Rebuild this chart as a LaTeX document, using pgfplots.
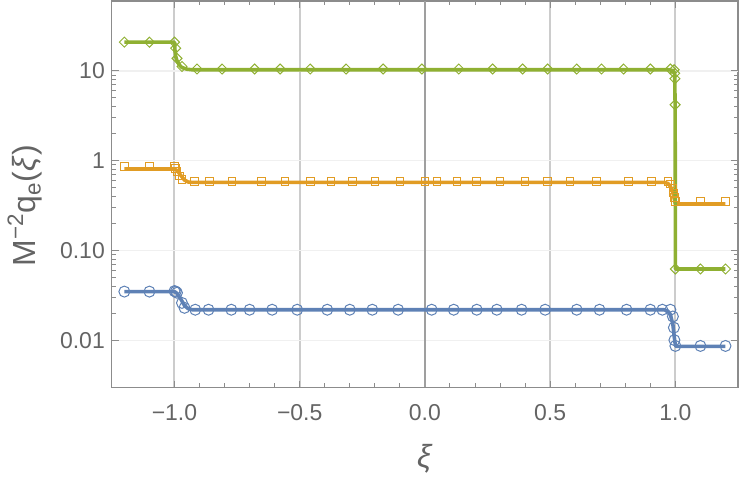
\documentclass[border=0pt]{standalone}
\usepackage{fontspec}
\setmainfont{Liberation Sans}
\usepackage{pgfplots}
\pgfplotsset{compat=1.18}
\definecolor{mblue}{RGB}{94,129,181}
\definecolor{morange}{RGB}{225,156,36}
\definecolor{mgreen}{RGB}{143,176,50}
\definecolor{framegray}{RGB}{140,140,140}
\definecolor{labgray}{RGB}{100,100,100}
\begin{document}
\begin{tikzpicture}
\useasboundingbox (-56pt,-47pt) rectangle (319.5pt,194pt);
\begin{axis}[
  at={(0,0)}, anchor=south west,
  scale only axis, width=313.5pt, height=193.5pt,
  xmin=-1.25, xmax=1.25,
  ymode=log, ymin=0.003, ymax=60,
  xtick={-1,-0.5,0,0.5,1},
  xticklabels={−1.0,−0.5,0.0,0.5,1.0},
  minor x tick num=4,
  ytick={0.01,0.1,1,10},
  yticklabels={0.01,0.10,1,10},
  xmajorgrids,
  major grid style={draw=gray!40, line width=1pt},
  extra y ticks={0.01,0.1,1,10},
  extra y tick labels={},
  extra y tick style={grid=major, major grid style={draw=gray!12, line width=0.6pt}},
  axis line style={framegray, line width=0.6pt},
  every tick/.style={framegray, line width=0.5pt},
  major tick length=3.5pt, minor tick length=2pt,
  tick align=inside,
  tick label style={font=\fontsize{11.5}{13}\selectfont, text=labgray},
  xticklabel style={yshift=-5pt},
  xlabel={\textit{ξ}},
  ylabel={M\textsuperscript{−2}q\textsubscript{e}(\textit{ξ})},
  label style={font=\fontsize{16}{18}\selectfont, text=labgray},
  xlabel style={at={(axis description cs:0.5,-0.185)}, anchor=center},
  ylabel style={at={(axis description cs:-0.139,0.47)}, anchor=center, rotate=0},
  clip=true,
]
% vertical line at 0
\addplot[forget plot, draw=gray!75, line width=1pt] coordinates {(0,0.003) (0,60)};

% ---------- lines ----------
\addplot[mblue, line width=1.8pt, line join=round] coordinates {
(-1.2,0.035) (-1.0,0.035) (-0.99,0.0335) (-0.975,0.029) (-0.96,0.0245) (-0.945,0.0226) (-0.93,0.022)
(0.955,0.022) (0.97,0.0212) (0.98,0.0195) (0.99,0.015) (0.995,0.0112) (1.0,0.0088) (1.005,0.0086) (1.2,0.0086)};
\addplot[morange, line width=1.8pt, line join=round] coordinates {
(-1.2,0.81) (-1.0,0.81) (-0.99,0.78) (-0.975,0.69) (-0.96,0.61) (-0.945,0.58) (-0.93,0.575)
(0.955,0.575) (0.97,0.56) (0.98,0.52) (0.99,0.44) (0.995,0.38) (1.0,0.335) (1.005,0.33) (1.2,0.33)};
\addplot[mgreen, line width=1.8pt, line join=round] coordinates {
(-1.2,20.9) (-1.0,20.9) (-0.998,17) (-0.995,14.5) (-0.99,13) (-0.98,11.6) (-0.97,10.9) (-0.95,10.45) (-0.93,10.3)
(0.975,10.3) (0.99,10.1) (0.997,9.5) (0.999,4) (1.0,0.0625) (1.2,0.0625)};

% ---------- markers ----------
\addplot[only marks, mark=o, mark size=2.75pt, mblue, mark options={line width=0.5pt}] coordinates {
(-1.2,0.035) (-1.1,0.035) (-1.0,0.0355) (-0.995,0.035) (-0.99,0.034) (-0.97,0.0262) (-0.96,0.0231)
(-0.917,0.022) (-0.864,0.022) (-0.773,0.022) (-0.70,0.022) (-0.61,0.022) (-0.51,0.022) (-0.39,0.022)
(-0.3,0.022) (-0.21,0.022) (-0.107,0.022) (0.027,0.022) (0.115,0.022) (0.207,0.022) (0.287,0.022)
(0.386,0.022) (0.48,0.022) (0.606,0.022) (0.697,0.022) (0.805,0.022) (0.9,0.022) (0.948,0.022)
(0.98,0.022) (0.99,0.0185) (0.994,0.0139) (0.996,0.0101) (1.0,0.0087) (1.1,0.0087) (1.2,0.0087)};
\addplot[only marks, mark=square, mark size=1.9pt, morange, mark options={line width=0.5pt}] coordinates {
(-1.2,0.86) (-1.1,0.86) (-1.0,0.86) (-0.995,0.82) (-0.99,0.76) (-0.98,0.68) (-0.97,0.62)
(-0.92,0.59) (-0.86,0.59) (-0.77,0.59) (-0.653,0.59) (-0.558,0.59) (-0.458,0.59) (-0.375,0.59)
(-0.29,0.59) (-0.2,0.59) (-0.1,0.59) (0.0,0.59) (0.048,0.59) (0.128,0.59) (0.207,0.59) (0.3,0.59)
(0.4,0.59) (0.49,0.59) (0.58,0.59) (0.685,0.59) (0.813,0.59) (0.905,0.59) (0.97,0.59)
(0.98,0.55) (0.99,0.5) (0.993,0.44) (0.996,0.39) (1.0,0.35) (1.1,0.35) (1.2,0.35)};
\addplot[only marks, mark=square, mark size=1.77pt, mgreen, mark options={line width=0.5pt, rotate=45}] coordinates {
(-1.2,20.9) (-1.1,20.9) (-1.0,20.9) (-0.995,17.9) (-0.99,13.8) (-0.97,11.2)
(-0.91,10.5) (-0.81,10.5) (-0.68,10.5) (-0.578,10.5) (-0.458,10.5) (-0.315,10.5) (-0.167,10.5)
(-0.012,10.5) (0.135,10.5) (0.27,10.5) (0.39,10.5) (0.49,10.5) (0.606,10.5) (0.705,10.5)
(0.793,10.5) (0.9,10.5) (0.98,10.5) (0.995,10.3) (0.997,9.4) (0.998,8.2) (0.999,4.2)
(1.0,0.0625) (1.1,0.0625) (1.2,0.0625)};
\end{axis}
\end{tikzpicture}
\end{document}
